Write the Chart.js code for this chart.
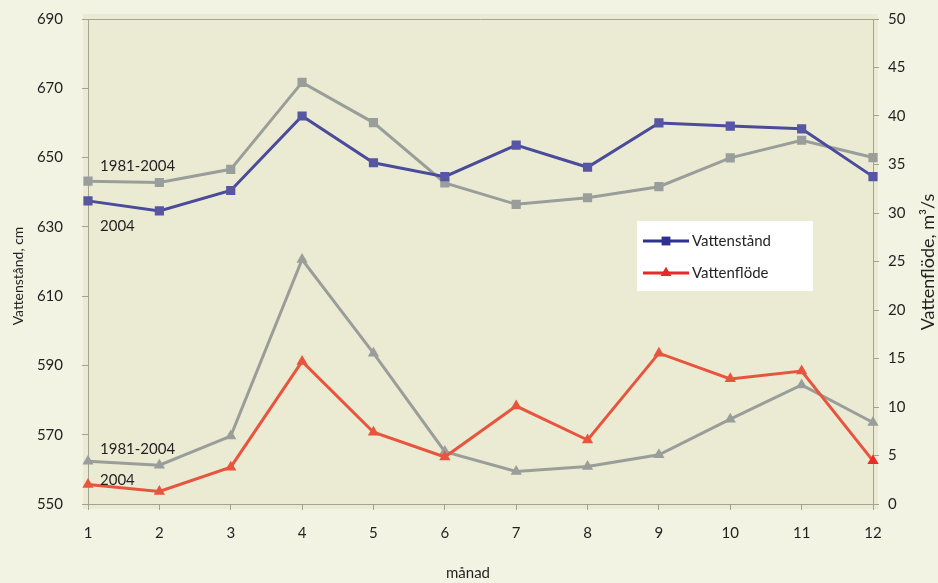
<!DOCTYPE html>
<html>
<head>
<meta charset="utf-8">
<script src="https://cdn.jsdelivr.net/npm/chart.js@4"></script>
<style>
    body{ margin:0; background:#f2f3e3; }
</style>
</head>
<body>
<canvas id="js--chart" width="938" height="583"></canvas>
<script>
// månad 1-12
const labels = ["1", "2", "3", "4", "5", "6", "7", "8", "9", "10", "11", "12"];

// vattenstånd, cm (vänster axel)
const vattenstand2004 = [637.5, 634.6, 640.5, 662.0, 648.5, 644.5, 653.6, 647.2, 660.0, 659.1, 658.3, 644.5];
const vattenstandMedel = [643.2, 642.8, 646.6, 671.7, 660.1, 642.7, 636.5, 638.4, 641.6, 649.9, 655.0, 650.0];

// vattenflöde, m3/s (höger axel)
const vattenflode2004 = [2.0, 1.3, 3.8, 14.7, 7.4, 4.85, 10.1, 6.6, 15.55, 12.9, 13.7, 4.45];
const vattenflodeMedel = [4.4, 4.0, 7.0, 25.2, 15.55, 5.4, 3.36, 3.87, 5.08, 8.75, 12.28, 8.4];

const axisColor = "#a3a394";
const textColor = "#231f20";
const fontName = "Lato, 'Open Sans', sans-serif";

const blue = "#4b4b9b";
const gray = "#9a9e9a";
const red = "#e8553e";

// bakgrund, ram, etiketter, legend och axeltitlar
const decor = {
    id: "decor",
    beforeDraw: function(chart){
        const ctx = chart.ctx;
        const a = chart.chartArea;
        ctx.save();
        ctx.fillStyle = "#f2f3e3";
        ctx.fillRect(0, 0, chart.width, chart.height);
        ctx.fillStyle = "#ebebd3";
        ctx.fillRect(a.left - 5, a.top - 5, a.right - a.left + 10, a.bottom - a.top + 10);
        ctx.strokeStyle = axisColor;
        ctx.lineWidth = 1;
        ctx.beginPath();
        ctx.moveTo(a.left, a.top + 0.5);
        ctx.lineTo(a.right, a.top + 0.5);
        ctx.stroke();
        ctx.restore();
    },
    afterDraw: function(chart){
        const ctx = chart.ctx;
        ctx.save();
        ctx.fillStyle = textColor;
        ctx.font = "15px " + fontName;
        ctx.textBaseline = "middle";
        ctx.textAlign = "left";
        ctx.fillText("1981-2004", 100, 166);
        ctx.fillText("2004", 100, 226);
        ctx.fillText("1981-2004", 100, 449);
        ctx.fillText("2004", 100, 480);

        // legend
        ctx.fillStyle = "#ffffff";
        ctx.fillRect(637, 221, 176, 70);
        const rows = [
            {text: "Vattenstånd", color: "#2e3192", style: "rect", y: 241},
            {text: "Vattenflöde", color: "#e42b2b", style: "triangle", y: 273}
        ];
        rows.forEach(function(row){
            ctx.strokeStyle = row.color;
            ctx.lineWidth = 3;
            ctx.beginPath();
            ctx.moveTo(643, row.y);
            ctx.lineTo(689, row.y);
            ctx.stroke();
            ctx.fillStyle = row.color;
            Chart.helpers.drawPoint(ctx, {pointStyle: row.style, radius: 6, borderWidth: 0}, 666, row.y);
            ctx.fill();
            ctx.fillStyle = textColor;
            ctx.font = "15px " + fontName;
            ctx.fillText(row.text, 692, row.y);
        });

        // axeltitlar
        ctx.textAlign = "center";
        ctx.font = "15px " + fontName;
        ctx.fillText("månad", 468, 573);

        ctx.save();
        ctx.translate(18, 276);
        ctx.rotate(-Math.PI / 2);
        ctx.font = "14px " + fontName;
        ctx.fillText("Vattenstånd, cm", 0, 0);
        ctx.restore();

        ctx.save();
        ctx.translate(928, 262);
        ctx.rotate(-Math.PI / 2);
        ctx.font = "18px " + fontName;
        ctx.fillText("Vattenflöde, m³/s", 0, 0);
        ctx.restore();

        ctx.restore();
    }
};

const data = {
    labels: labels,
    datasets: [
        {
            label: "Vattenstånd 1981-2004",
            data: vattenstandMedel,
            yAxisID: "y",
            borderColor: gray,
            backgroundColor: gray,
            pointStyle: "rect",
            order: 2
        },
        {
            label: "Vattenflöde 1981-2004",
            data: vattenflodeMedel,
            yAxisID: "y1",
            borderColor: gray,
            backgroundColor: gray,
            pointStyle: "triangle",
            order: 2
        },
        {
            label: "Vattenstånd",
            data: vattenstand2004,
            yAxisID: "y",
            borderColor: blue,
            backgroundColor: "#5656a3",
            pointStyle: "rect",
            order: 1
        },
        {
            label: "Vattenflöde",
            data: vattenflode2004,
            yAxisID: "y1",
            borderColor: red,
            backgroundColor: [red, red, red, red, red, red, red, red, red, red, red, "#ec2a2a"],
            pointStyle: "triangle",
            order: 1
        }
    ]
};

const tickFont = {family: fontName, size: 15};

// y-axlarna ska inte skjuta ner diagramytan
function fixWidth(width){
    return function(scale){
        scale.width = width;
        scale.paddingTop = 0;
        scale.paddingBottom = 0;
    };
}

const config = {
    type: "line",
    data: data,
    options: {
        responsive: false,
        animation: false,
        devicePixelRatio: 1,
        layout: {padding: {top: 19}},
        elements: {
            line: {borderWidth: 3, tension: 0},
            point: {radius: 6.5, borderWidth: 0, hoverRadius: 6.5}
        },
        plugins: {
            legend: {display: false},
            tooltip: {enabled: false}
        },
        scales: {
            x: {
                offset: false,
                grid: {drawOnChartArea: false, tickLength: 6, color: axisColor},
                border: {color: axisColor},
                ticks: {padding: 14, color: textColor, font: tickFont, maxRotation: 0},
                afterFit: function(scale){ scale.height = 79; }
            },
            y: {
                position: "left",
                min: 550,
                max: 690,
                grid: {drawOnChartArea: false, tickLength: 6, color: axisColor},
                border: {color: axisColor},
                ticks: {stepSize: 20, padding: 19, color: textColor, font: tickFont},
                afterFit: fixWidth(88)
            },
            y1: {
                position: "right",
                min: 0,
                max: 50,
                grid: {drawOnChartArea: false, tickLength: 6, color: axisColor},
                border: {color: axisColor},
                ticks: {stepSize: 5, padding: 9, color: textColor, font: tickFont},
                afterFit: fixWidth(65)
            }
        }
    },
    plugins: [decor]
};

new Chart(document.getElementById("js--chart"), config);
</script>
</body>
</html>
